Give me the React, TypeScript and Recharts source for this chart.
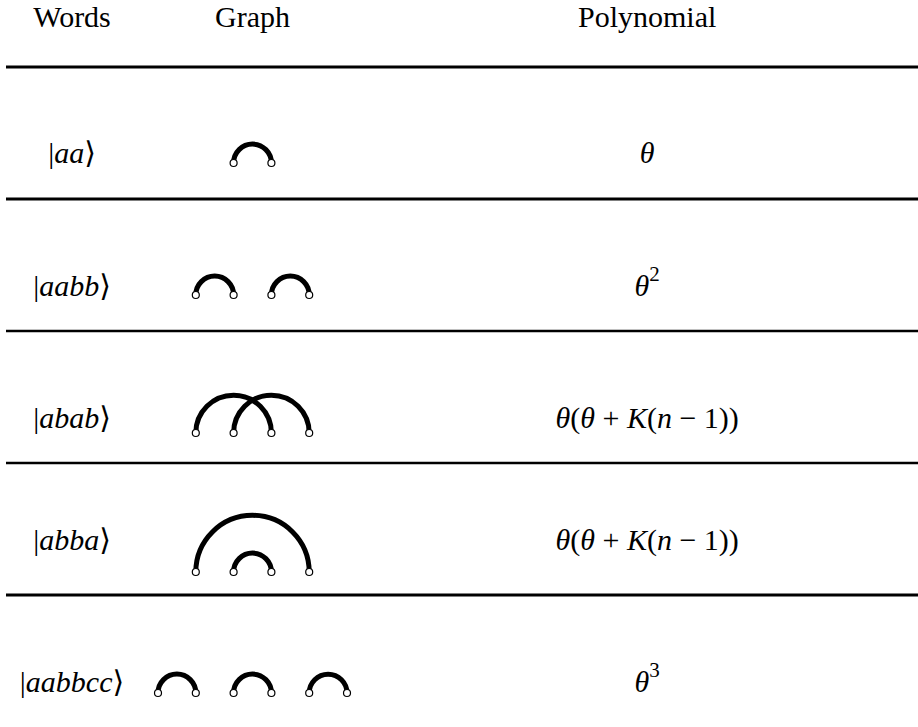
import { ReferenceLine, Scatter, ScatterChart, XAxis, YAxis } from "recharts";

const W = 918;
const H = 727;

// table content
const HEADERS = ["Words", "Graph", "Polynomial"];
const WORDS = ["aa", "aabb", "abab", "abba", "aabbcc"];
const POLYS = ["θ", "θ^2", "θ(θ + K(n − 1))", "θ(θ + K(n − 1))", "θ^3"];

// layout: x in node slots, y in table rows (rule k sits at y = k)
const SLOT_PX = 37.8;
const ROW_PX = 132;
const X_MIN = -3.18;
const X_MAX = X_MIN + W / SLOT_PX;
const Y_MIN = -67 / ROW_PX;
const Y_MAX = Y_MIN + H / ROW_PX;
const COL_X = [-1.275, 3.5, 13.94];
const HEADER_Y = -40 / ROW_PX;
const TEXT_OFF = [85, 86, 86, 76, 86].map((v) => v / ROW_PX);
const NODE_OFF = [96, 96, 102, 109, 98].map((v) => v / ROW_PX);
const RULE_W = [3.2, 3.2, 2.4, 2.4, 3.2];
const RULE_X0 = X_MIN + 6 / SLOT_PX;

const textStyle = { fontFamily: '"Liberation Serif", "DejaVu Serif", serif', fontSize: 30 };

// nodes and arcs follow the letters of each word
const nodes: { x: number; y: number }[] = [];
const arcs: { x: number; y: number; span: number }[] = [];
WORDS.forEach((w, r) => {
  const start = COL_X[1] - (w.length - 1) / 2;
  const y = r + NODE_OFF[r];
  const seen: Record<string, number> = {};
  [...w].forEach((ch, i) => {
    const x = start + i;
    nodes.push({ x, y });
    if (seen[ch] !== undefined) {
      const a = start + seen[ch];
      arcs.push({ x: (a + x) / 2, y, span: x - a });
    } else seen[ch] = i;
  });
});

const headerCells = HEADERS.map((label, i) => ({ x: COL_X[i], y: HEADER_Y, label }));
const wordCells = WORDS.map((w, r) => ({ x: COL_X[0], y: r + TEXT_OFF[r], label: w }));
const polyCells = POLYS.map((p, r) => ({ x: COL_X[2], y: r + TEXT_OFF[r], label: p }));

function Header(p: any) {
  return (
    <text x={p.cx} y={p.cy} textAnchor="middle" style={textStyle} fill="#000">
      {p.payload.label}
    </text>
  );
}

function Word(p: any) {
  return (
    <text x={p.cx} y={p.cy} textAnchor="middle" dominantBaseline="central" style={textStyle} fill="#000">
      <tspan>|</tspan>
      <tspan style={{ fontStyle: "italic" }}>{p.payload.label}</tspan>
      <tspan>⟩</tspan>
    </text>
  );
}

function Poly(p: any) {
  const tokens: string[] = p.payload.label.match(/\^\d|[θKn]|[^θKn^]+/g) ?? [];
  return (
    <text x={p.cx} y={p.cy} textAnchor="middle" dominantBaseline="central" style={textStyle} fill="#000">
      {tokens.map((t, i) =>
        t.startsWith("^") ? (
          <tspan key={i} dy={-11} style={{ fontSize: 21 }}>
            {t.slice(1)}
          </tspan>
        ) : (
          <tspan key={i} style={{ fontStyle: /[θKn]/.test(t) ? "italic" : "normal" }}>
            {t}
          </tspan>
        )
      )}
    </text>
  );
}

function Arc(p: any) {
  const r = (p.payload.span / 2) * SLOT_PX;
  return (
    <path
      d={`M ${p.cx - r} ${p.cy} A ${r} ${r} 0 0 1 ${p.cx + r} ${p.cy}`}
      fill="none"
      stroke="#000"
      strokeWidth={5}
    />
  );
}

function Node(p: any) {
  return <circle cx={p.cx} cy={p.cy} r={3.5} fill="#fff" stroke="#000" strokeWidth={1.2} />;
}

export default function App() {
  return (
    <div style={{ position: "absolute", left: 0, top: 0, width: W, height: H, background: "#fff" }}>
      <ScatterChart width={W} height={H} margin={{ top: 0, right: 0, bottom: 0, left: 0 }}>
        <XAxis type="number" dataKey="x" domain={[X_MIN, X_MAX]} hide allowDataOverflow />
        <YAxis type="number" dataKey="y" domain={[Y_MIN, Y_MAX]} reversed hide allowDataOverflow />
        {RULE_W.map((w, k) => (
          <ReferenceLine
            key={k}
            segment={[
              { x: RULE_X0, y: k },
              { x: X_MAX, y: k },
            ]}
            stroke="#000"
            strokeWidth={w}
          />
        ))}
        <Scatter data={headerCells} shape={Header} isAnimationActive={false} />
        <Scatter data={wordCells} shape={Word} isAnimationActive={false} />
        <Scatter data={polyCells} shape={Poly} isAnimationActive={false} />
        <Scatter data={arcs} shape={Arc} isAnimationActive={false} />
        <Scatter data={nodes} shape={Node} isAnimationActive={false} />
      </ScatterChart>
    </div>
  );
}
